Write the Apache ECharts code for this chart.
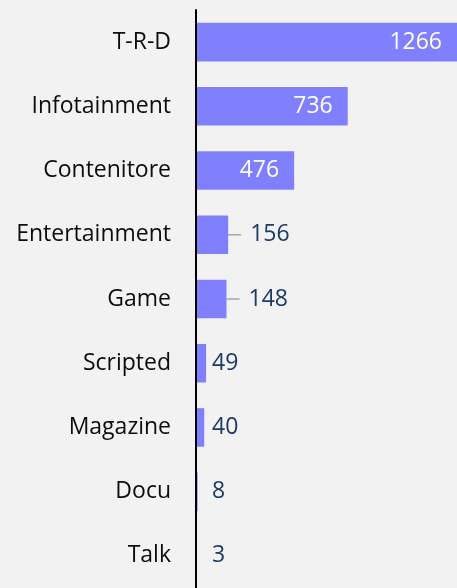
<!DOCTYPE html>
<html>
<head>
<meta charset="utf-8">
<script src="https://cdn.jsdelivr.net/npm/echarts@6/dist/echarts.min.js"></script>
<style>
  html, body { margin: 0; padding: 0; background: #F2F2F2; }
  #chart { width: 457px; height: 588px; }
</style>
</head>
<body>
<div id="chart"></div>
<script>
// categories, top to bottom
const categories = ['T-R-D', 'Infotainment', 'Contenitore', 'Entertainment', 'Game', 'Scripted', 'Magazine', 'Docu', 'Talk'];
const values = [1266, 736, 476, 156, 148, 49, 40, 8, 3];
// labels that sit inside the bar (white) vs outside
const insideLabel = [true, true, true, false, false, false, false, false, false];
// labels pushed away with a guide line
const movedLabel = [false, false, false, true, true, false, false, false, false];

const LABEL_MIN_X = 212;

const chart = echarts.init(document.getElementById('chart'));

const seriesData = values.map((v, i) => {
  const item = {value: v};
  if (insideLabel[i]) {
    item.label = {position: 'insideRight', distance: 15, color: '#FFFFFF'};
  }
  if (movedLabel[i]) {
    item.label = {formatter: '{gap| }{c}'};
    item.labelLine = {show: true};
  }
  return item;
});

const option = {
  backgroundColor: '#F2F2F2',
  animation: false,
  grid: {left: 196, right: 0, top: 10, bottom: -7},
  xAxis: {
    type: 'value',
    min: 0,
    max: 1266,
    show: false,
  },
  yAxis: {
    type: 'category',
    inverse: true,
    z: 5,
    data: categories,
    axisLine: {show: true, lineStyle: {color: '#000000', width: 2}},
    axisTick: {show: false},
    axisLabel: {
      margin: 25,
      fontFamily: 'Open Sans',
      fontSize: 23,
      color: '#0D0D0D',
    },
  },
  series: [{
    type: 'bar',
    data: seriesData,
    barCategoryGap: '40%',
    itemStyle: {color: '#8080FF'},
    label: {
      show: true,
      position: 'right',
      distance: 6,
      fontFamily: 'Open Sans',
      fontSize: 23,
      color: '#1F3864',
      rich: {gap: {width: 9, fontSize: 23}},
    },
    labelLine: {show: false, lineStyle: {color: '#A6A6A6', width: 1.5}},
    labelLayout: (params) => {
      const i = params.dataIndex;
      if (insideLabel[i]) return {};
      const barEnd = params.rect.x + params.rect.width;
      const midY = params.rect.y + params.rect.height / 2;
      const x = movedLabel[i] ? barEnd + 13 : Math.max(barEnd + 6, LABEL_MIN_X);
      return {x: x, y: midY, align: 'left', verticalAlign: 'middle'};
    },
  }],
};

chart.setOption(option);
</script>
</body>
</html>
